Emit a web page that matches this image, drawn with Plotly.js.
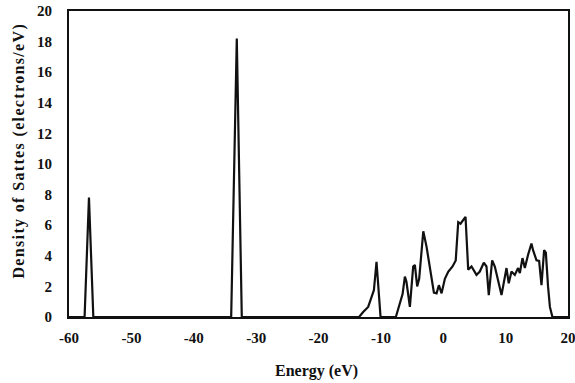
<!DOCTYPE html>
<html>
<head>
<meta charset="utf-8">
<script src="https://cdn.plot.ly/plotly-3.0.1.min.js"></script>
<style>html,body{margin:0;padding:0;background:#fff;}#chart{width:575px;height:383px;}</style>
</head>
<body>
<div id="chart"></div>
<script>
const energy = [-60, -57.5, -56.8, -56.1, -34.0, -33.1, -32.3, -13.5, -12.84, -12.04, -11.5, -11.12, -10.7, -10.44, -10.05,
  -7.6, -6.95, -6.52, -6.15, -5.9, -5.35, -4.82, -4.55, -4.18, -3.86, -3.2, -2.68, -2.15, -1.5, -1.07, -0.7, -0.27,
  0.26, 0.79, 1.49, 2.0, 2.4, 2.77, 3.0, 3.3, 3.57, 4.0, 4.53, 5.33, 5.86, 6.5, 6.93, 7.3, 7.84, 8.27, 8.8, 9.34,
  10.14, 10.5, 10.94, 11.47, 12.0, 12.28, 12.7, 13.08, 13.6, 14.14, 14.4, 14.95, 15.37, 15.75, 16.17, 16.45, 16.8,
  17.1, 17.5, 20];
const dos = [0, 0, 7.8, 0, 0, 18.2, 0, 0, 0.33, 0.66, 1.3, 1.75, 3.6, 2.0, 0,
  0, 0.87, 1.5, 2.64, 2.3, 0.66, 3.3, 3.4, 2.0, 2.5, 5.6, 4.6, 3.1, 1.6, 1.55, 2.08, 1.55,
  2.5, 2.95, 3.3, 3.7, 6.2, 6.1, 6.25, 6.45, 6.55, 3.1, 3.3, 2.75, 2.97, 3.55, 3.3, 1.43, 3.7, 3.3, 2.43, 1.43,
  3.2, 2.2, 2.97, 2.75, 3.2, 2.87, 3.85, 3.2, 4.07, 4.8, 4.37, 3.7, 3.67, 2.08, 4.37, 4.2, 2.0,
  0.66, 0, 0];
const xTicks = [-60, -50, -40, -30, -20, -10, 0, 10, 20];
const yTicks = [0, 2, 4, 6, 8, 10, 12, 14, 16, 18, 20];
const xTitle = 'Energy (eV)';
const yTitle = 'Density of Sattes (electrons/eV)';

const fam = '"Liberation Serif", "Times New Roman", serif';
const tickFont = {family: fam, size: 15, color: '#111', weight: 'bold'};
const titleFont = {family: fam, size: 16, color: '#111', weight: 'bold'};

Plotly.newPlot('chart', [{
  x: energy, y: dos, type: 'scatter', mode: 'lines',
  line: {color: '#111', width: 2.2}, hoverinfo: 'skip'
}], {
  width: 575, height: 383,
  margin: {l: 69, r: 7, t: 11, b: 66},
  paper_bgcolor: '#fff', plot_bgcolor: '#fff',
  showlegend: false,
  font: tickFont,
  xaxis: {
    range: [-60, 20], tickvals: xTicks, ticktext: xTicks.map(String),
    showgrid: false, zeroline: false, showline: true, mirror: true,
    linecolor: '#111', linewidth: 2, ticks: '', ticklabelstandoff: 6,
    ticklabeloverflow: 'allow', tickfont: tickFont
  },
  yaxis: {
    range: [0, 20], tickvals: yTicks, ticktext: yTicks.map(String),
    showgrid: false, zeroline: false, showline: true, mirror: true,
    linecolor: '#111', linewidth: 2, ticks: '', ticklabelstandoff: 12,
    ticklabeloverflow: 'allow', tickfont: tickFont
  },
  annotations: [
    {text: xTitle, xref: 'paper', yref: 'paper', x: 0.5, y: 0, xanchor: 'center', yanchor: 'middle',
     yshift: -54, xshift: -2, showarrow: false, font: titleFont},
    {text: yTitle, xref: 'paper', yref: 'paper', x: 0, y: 0.5, xanchor: 'center', yanchor: 'middle',
     xshift: -50, yshift: 13, textangle: -90, showarrow: false, font: titleFont}
  ]
}, {displayModeBar: false, staticPlot: true}).then(function () {
  document.querySelectorAll('#chart .annotation-text').forEach(function (t) {
    if ((t.textContent || '').indexOf('Density') === 0) t.style.letterSpacing = '1.35px';
  });
});
</script>
</body>
</html>
